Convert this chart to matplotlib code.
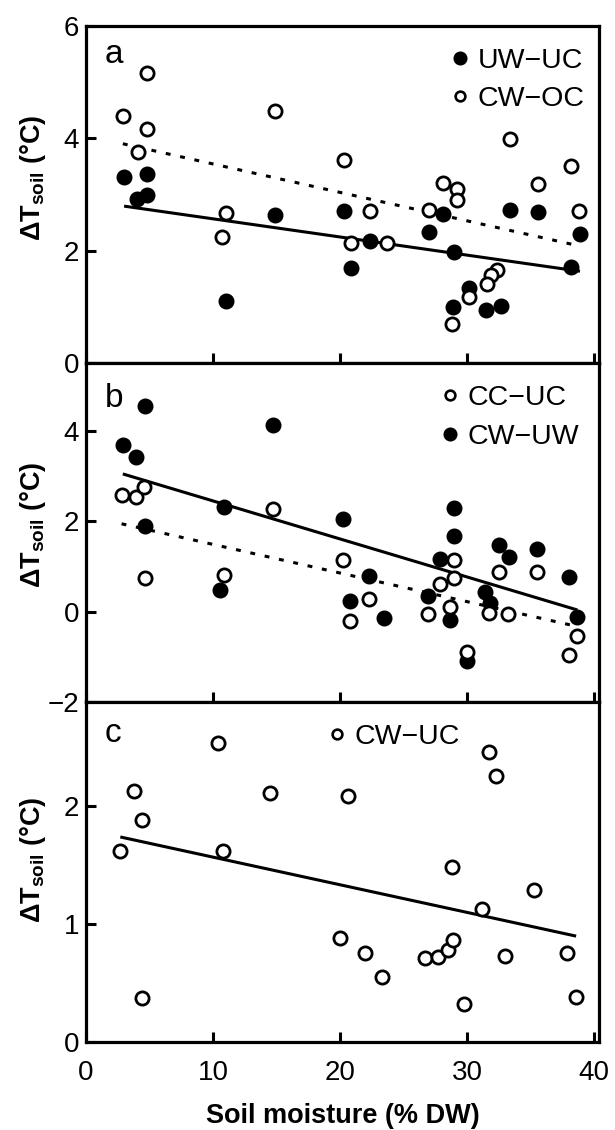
import numpy as np
import matplotlib
matplotlib.use("Agg")
import matplotlib.pyplot as plt
from matplotlib.lines import Line2D

plt.rcParams['font.family'] = ['Liberation Sans', 'DejaVu Sans']
plt.rcParams['mathtext.fontset'] = 'custom'
plt.rcParams['mathtext.bf'] = 'Liberation Sans:bold'
plt.rcParams['mathtext.rm'] = 'Liberation Sans'
plt.rcParams['mathtext.default'] = 'bf'

# ---------------- Panel a ----------------
a_uwuc_x = [3.0, 4.8, 4.0, 4.8, 14.9, 11.0, 20.3, 22.4, 20.9, 33.4, 35.6, 28.1, 27.0,
            29.0, 38.9, 38.2, 30.2, 28.9, 31.5, 32.7]
a_uwuc_y = [3.31, 3.37, 2.92, 3.0, 2.64, 1.11, 2.70, 2.17, 1.70, 2.73, 2.68, 2.65, 2.33,
            1.97, 2.30, 1.71, 1.34, 1.0, 0.94, 1.02]
a_cwoc_x = [4.8, 2.9, 4.8, 4.1, 14.9, 20.3, 11.0, 10.7, 22.4, 20.9, 23.7, 33.4, 38.2,
            35.6, 28.1, 29.2, 29.2, 27.0, 38.8, 32.4, 31.9, 31.6, 30.2, 28.8]
a_cwoc_y = [5.16, 4.39, 4.16, 3.76, 4.49, 3.61, 2.67, 2.25, 2.70, 2.13, 2.14, 3.99, 3.51,
            3.19, 3.20, 3.10, 2.91, 2.73, 2.71, 1.66, 1.57, 1.41, 1.18, 0.70]
a_fit_uwuc = (-0.0323, 2.89)   # slope, intercept
a_fit_cwoc = (-0.0506, 4.05)

# ---------------- Panel b ----------------
b_ccuc_x = [2.8, 3.9, 4.6, 4.65, 10.9, 14.7, 20.2, 22.3, 20.8, 29.0, 29.0, 27.9, 32.5,
            35.5, 26.9, 28.7, 31.7, 33.2, 30.0, 38.7, 38.0]
b_ccuc_y = [2.58, 2.54, 2.75, 0.74, 0.81, 2.27, 1.14, 0.28, -0.21, 1.14, 0.74, 0.61, 0.87,
            0.88, -0.05, 0.10, -0.04, -0.05, -0.90, -0.54, -0.97]
b_cwuw_x = [4.65, 2.9, 3.9, 14.75, 10.9, 4.65, 10.55, 20.2, 22.3, 20.8, 23.5, 29.0, 29.0,
            27.9, 32.5, 33.3, 35.5, 38.0, 26.9, 31.4, 31.8, 28.7, 30.0, 38.7]
b_cwuw_y = [4.54, 3.68, 3.41, 4.12, 2.32, 1.89, 0.48, 2.04, 0.79, 0.23, -0.15, 2.30, 1.68,
            1.16, 1.47, 1.21, 1.38, 0.77, 0.35, 0.43, 0.18, -0.18, -1.10, -0.11]
b_fit_cwuw = (-0.0841, 3.29)
b_fit_ccuc = (-0.0633, 2.12)

# ---------------- Panel c ----------------
c_cwuc_x = [10.4, 3.8, 4.4, 2.7, 10.8, 14.5, 20.65, 4.4, 20.0, 22.0, 23.3, 31.7, 32.3,
            28.8, 35.3, 31.2, 26.7, 27.7, 28.5, 28.9, 33.0, 37.9, 29.8, 38.6]
c_cwuc_y = [2.53, 2.13, 1.88, 1.62, 1.62, 2.11, 2.08, 0.37, 0.88, 0.75, 0.55, 2.46, 2.25,
            1.48, 1.29, 1.13, 0.71, 0.72, 0.78, 0.86, 0.73, 0.75, 0.32, 0.38]
c_fit_cwuc = (-0.0234, 1.80)

x_ticks = [0, 10, 20, 30, 40]
a_yticks = [0, 2, 4, 6]
b_yticks = [-2, 0, 2, 4]
c_yticks = [0, 1, 2]

W, H = 615, 1130
fig = plt.figure(figsize=(W / 100, H / 100), dpi=100)

left, right = 86 / W, 599 / W
bounds = [(26, 363), (363, 702), (702, 1042)]
axes = []
for top, bot in bounds:
    ax = fig.add_axes([left, 1 - bot / H, right - left, (bot - top) / H])
    axes.append(ax)

MS = 9.5
MEW = 2.0
LW = 2.2
TICKFS = 20
LEGFS = 20.5
LABFS = 19.5


def style(ax, ylim, yticks, ylab_y, show_x):
    ax.set_xlim(0, 40.4)
    ax.set_ylim(*ylim)
    ax.set_xticks(x_ticks)
    ax.set_yticks(yticks)
    ax.set_yticklabels([str(t).replace('-', '\u2212') for t in yticks])
    for s in ['top', 'right', 'left', 'bottom']:
        ax.spines[s].set_linewidth(2.3)
    ax.tick_params(direction='in', length=7, width=2.2, labelsize=TICKFS,
                   right=False, top=False)
    ax.tick_params(axis='y', pad=5)
    ax.tick_params(axis='x', pad=13)
    if not show_x:
        ax.tick_params(labelbottom=False)
    ax.set_ylabel('ΔT$_{soil}$ (°C)', fontsize=LABFS, fontweight='bold')
    ax.yaxis.set_label_coords(-0.074, ylab_y)


def fitline(ax, xs, fit, ls):
    xx = np.array([min(xs), max(xs)])
    ax.plot(xx, fit[0] * xx + fit[1], color='black', lw=LW, ls=ls, zorder=2,
            solid_capstyle='butt')


def pts(ax, xs, ys, filled):
    ax.plot(xs, ys, ls='none', marker='o', ms=MS, mew=MEW, mec='black',
            mfc='black' if filled else 'white', zorder=3)


def legend(ax, entries, x0, y0):
    handles = [Line2D([], [], ls='none', marker='o', ms=8.2 if f else 7.0, mew=1.9,
                      mec='black', mfc='black' if f else 'white') for _, f in entries]
    ax.legend(handles, [e[0] for e in entries], loc='upper left', bbox_to_anchor=(x0, y0),
              frameon=False, fontsize=LEGFS, borderpad=0, borderaxespad=0,
              handlelength=0.7, handletextpad=0.27, labelspacing=0.45)


def letter(ax, s, ybase):
    ax.text(0.036, ybase, s, transform=ax.transAxes, fontsize=24, va='baseline', ha='left')


# panel a
ax = axes[0]
fitline(ax, a_cwoc_x, a_fit_cwoc, (0, (1.6, 3.2)))
fitline(ax, a_uwuc_x, a_fit_uwuc, '-')
pts(ax, a_uwuc_x, a_uwuc_y, True)
pts(ax, a_cwoc_x, a_cwoc_y, False)
style(ax, (0, 6), a_yticks, 0.549, False)
legend(ax, [('UW\u2212UC', True), ('CW\u2212OC', False)], 0.7096, 0.936)
letter(ax, 'a', 0.890)

# panel b
ax = axes[1]
fitline(ax, b_ccuc_x, b_fit_ccuc, (0, (1.6, 3.2)))
fitline(ax, b_cwuw_x, b_fit_cwuw, '-')
pts(ax, b_cwuw_x, b_cwuw_y, True)
pts(ax, b_ccuc_x, b_ccuc_y, False)
style(ax, (-2, 5.5), b_yticks, 0.522, False)
legend(ax, [('CC\u2212UC', False), ('CW\u2212UW', True)], 0.690, 0.934)
letter(ax, 'b', 0.870)

# panel c
ax = axes[2]
fitline(ax, c_cwuc_x, c_fit_cwuc, '-')
pts(ax, c_cwuc_x, c_cwuc_y, False)
style(ax, (0, 2.88), c_yticks, 0.535, True)
legend(ax, [('CW\u2212UC', False)], 0.469, 0.936)
letter(ax, 'c', 0.882)
ax.set_xlabel('Soil moisture (% DW)', fontsize=LABFS, fontweight='bold', labelpad=12)

fig.savefig('out.png', dpi=100)
